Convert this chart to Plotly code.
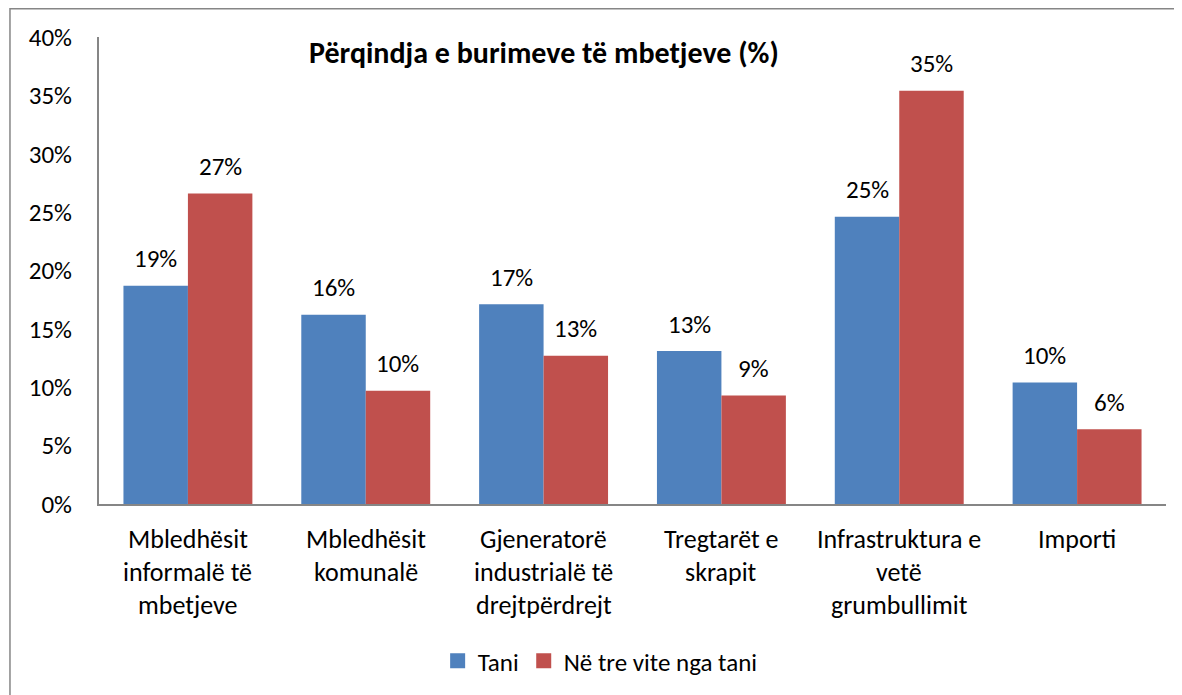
import plotly.graph_objects as go

categories = [
    "Mbledhësit\ninformalë të\nmbetjeve",
    "Mbledhësit\nkomunalë",
    "Gjeneratorë\nindustrialë të\ndrejtpërdrejt",
    "Tregtarët e\nskrapit",
    "Infrastruktura e\nvetë\ngrumbullimit",
    "Importi",
]
tani = [18.7, 16.2, 17.1, 13.1, 24.6, 10.4]
tre_vite = [26.6, 9.7, 12.7, 9.3, 35.4, 6.4]
series_names = ["Tani", "Në tre vite nga tani"]
y_ticks = [0, 5, 10, 15, 20, 25, 30, 35, 40]
title_text = "Përqindja e burimeve të mbetjeve (%)"

FONT = "Carlito, Calibri, Lato, sans-serif"
BLUE = "#4F81BD"
RED = "#C0504D"
GRAY = "#868686"

# page body has an 8px margin; compensate
OFF = 8
W, H = 1182 - OFF, 695 - OFF
PL, PR, PT, PB = 99, 1165.7, 37, 504   # plot area in page pixels
L, T = PL - OFF, PT - OFF
R = W - (PR - OFF)
B = H - (PB - OFF)
plot_w = PR - PL
plot_h = PB - PT


def px(x):
    return (x - PL) / plot_w


def py(y):
    return (PB - y) / plot_h


cat_keys = [c.replace("\n", " ") for c in categories]

fig = go.Figure()
for name, vals, col in ((series_names[0], tani, BLUE), (series_names[1], tre_vite, RED)):
    fig.add_trace(go.Bar(x=cat_keys, y=vals, name=name, marker_color=col,
                         marker_line_width=0, showlegend=False, legendgroup=name))
    fig.add_trace(go.Scatter(x=[None], y=[None], mode="markers", name=name,
                             legendgroup=name,
                             marker=dict(symbol="square", size=15, color=col)))

annotations = []
cat_w = plot_w / len(categories)
bargap = 0.275
bar_w = cat_w * (1 - bargap) / 2
for series, sign in ((tani, -1), (tre_vite, 1)):
    for k, v in zip(cat_keys, series):
        annotations.append(dict(
            x=k, y=v, xref="x", yref="y", text=f"{round(v):d}%",
            showarrow=False, xshift=sign * bar_w / 2, yshift=27,
            yanchor="middle", font=dict(family=FONT, size=25, color="#000000")))

for k, c in zip(cat_keys, categories):
    for i, line in enumerate(c.split("\n")):
        annotations.append(dict(
            x=k, y=0, xref="x", yref="paper", text=line, showarrow=False,
            yanchor="middle", yshift=-(35 + 33 * i),
            font=dict(family=FONT, size=26, color="#000000")))

annotations.append(dict(
    x=px(544), y=py(52), xref="paper", yref="paper",
    text=f"<b>{title_text}</b>", showarrow=False, xanchor="center", yanchor="middle",
    font=dict(family=FONT, size=30, color="#000000")))

shapes = [dict(
    type="rect", xref="paper", yref="paper",
    x0=px(10), x1=px(1200), y0=py(720), y1=py(8.8),
    line=dict(color=GRAY, width=1.5), fillcolor="rgba(0,0,0,0)", layer="below")]

fig.update_layout(
    width=W, height=H,
    margin=dict(l=L, r=R, t=T, b=B, autoexpand=False),
    paper_bgcolor="white", plot_bgcolor="white",
    barmode="group", bargap=bargap, bargroupgap=0,
    font=dict(family=FONT, size=25, color="#000000"),
    showlegend=True,
    legend=dict(orientation="h", x=px(600), xanchor="center",
                y=py(661), yanchor="middle",
                font=dict(family=FONT, size=25, color="#000000"),
                itemwidth=30, tracegroupgap=0, bgcolor="rgba(0,0,0,0)"),
    annotations=annotations,
    shapes=shapes,
)
fig.update_xaxes(showticklabels=False, showline=True, linecolor=GRAY, linewidth=2,
                 ticks="", showgrid=False, zeroline=False)
fig.update_yaxes(range=[0, 40], tickvals=y_ticks, ticktext=[f"{v}%" for v in y_ticks],
                 showline=True, linecolor=GRAY, linewidth=2, ticks="",
                 showgrid=False, zeroline=False, ticklabelstandoff=20,
                 tickfont=dict(family=FONT, size=25, color="#000000"))

fig.write_html("out.html")
